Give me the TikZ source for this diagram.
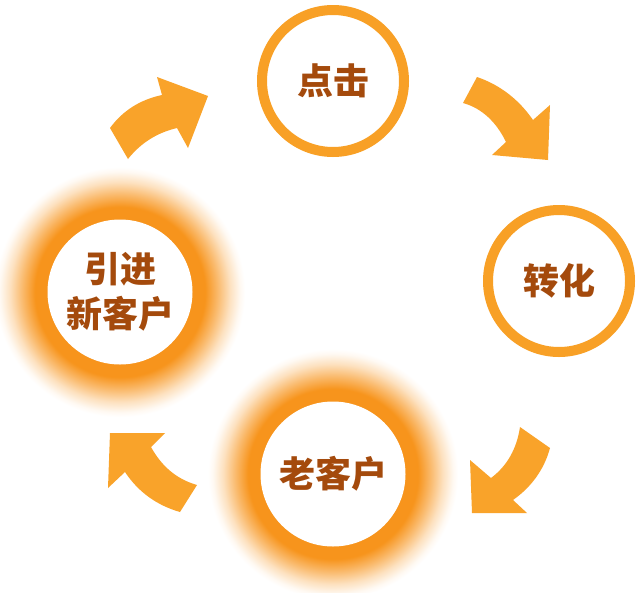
\documentclass[tikz,border=0pt]{standalone}
\usepackage{fontspec}
\newfontfamily\cjk{Noto Sans CJK SC}
\definecolor{ringc}{RGB}{248,160,38}
\definecolor{arrowc}{RGB}{249,163,42}
\definecolor{glowc}{RGB}{247,148,28}
\definecolor{txtc}{RGB}{164,74,12}
\pgfdeclareradialshading{glow}{\pgfpoint{0bp}{0bp}}{color(0bp)=(glowc); color(14bp)=(glowc); color(17bp)=(glowc); color(19.5bp)=(glowc!65); color(22bp)=(glowc!28); color(24bp)=(glowc!6); color(25bp)=(white); color(50bp)=(white)}
\tikzset{
  ringnode/.style={circle, draw=ringc, line width=10pt, fill=white, minimum size=142pt, inner sep=0pt,
    font=\cjk\bfseries\fontsize{36}{45}\selectfont, text=txtc, align=center},
  glownode/.style={circle, fill=white, minimum size=145pt, inner sep=0pt,
    font=\cjk\bfseries\fontsize{36}{45}\selectfont, text=txtc, align=center},
  blockarrow/.style={fill=arrowc, draw=none}
}
\begin{document}
\begin{tikzpicture}[x=1pt,y=-1pt]
\useasboundingbox (0,0) rectangle (642,592);
\fill[white] (0,0) rectangle (642,592);
% glows
\shade[shading=glow] (120,292) circle[radius=125];
\shade[shading=glow] (333,474) circle[radius=125];
% nodes
\node[ringnode] (click) at (333,81) {点击};
\node[ringnode] (conv) at (559,281) {转化};
\node[glownode] (old) at (333,474) {老客户};
\node[glownode] (new) at (120,292) {引进\\新客户};
% arrows
\coordinate (a1) at (128,159);
\fill[blockarrow] (a1) -- (110,128) .. controls (122.7,110.7) and (140,99.7) .. (162,95) -- (157,77) -- (208,96) -- (188,148) -- (177,128) .. controls (157,132.7) and (140.7,143) .. cycle;
\coordinate (a2) at (477,77);
\fill[blockarrow] (a2) .. controls (500.3,85) and (519,99.7) .. (533,120) -- (550,105) -- (548,160) -- (492,155) -- (506,142) .. controls (496.7,122.7) and (482.3,108.3) .. (463,103) -- cycle;
\coordinate (a3) at (550,448);
\fill[blockarrow] (a3) .. controls (544,470) and (531,487.3) .. (513,500) -- (527,513) -- (472,513) -- (470,460) -- (491,478) .. controls (507,466) and (516.7,449) .. (520,427) -- cycle;
\coordinate (a4) at (180,512);
\fill[blockarrow] (a4) .. controls (156.7,505.3) and (138.3,492) .. (125,472) -- (108,488) -- (110,433) -- (165,433) -- (151,447) .. controls (161.7,466.3) and (176.3,479) .. (197,485) -- cycle;
\end{tikzpicture}
\end{document}
